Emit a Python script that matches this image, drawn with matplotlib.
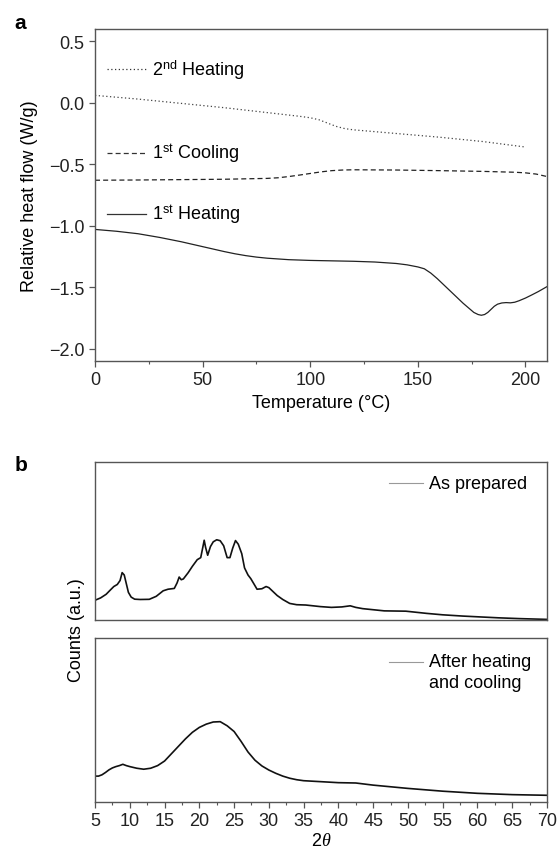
import numpy as np
import matplotlib
matplotlib.use('Agg')
import matplotlib.pyplot as plt
from matplotlib.ticker import MultipleLocator, FuncFormatter

plt.rcParams['font.family'] = ['Liberation Sans', 'DejaVu Sans']
plt.rcParams['font.size'] = 13
plt.rcParams['mathtext.fontset'] = 'custom'
plt.rcParams['mathtext.rm'] = 'Liberation Sans'
plt.rcParams['mathtext.it'] = 'Liberation Serif:italic'

##### DSC (panel a)
heat1_T = [0, 10, 20, 30, 40, 50, 55, 60, 65, 70, 75, 80, 90, 100, 120, 130, 140, 145,
           150, 153, 156, 159, 162, 165, 168, 171, 174, 176, 178, 179.5, 181, 182.5, 184,
           185.5, 187, 189, 191, 193, 195, 197, 200, 203, 206, 209, 210]
heat1_Q = [-1.03, -1.045, -1.065, -1.095, -1.13, -1.17, -1.19, -1.21, -1.228, -1.243, -1.255,
           -1.264, -1.276, -1.282, -1.289, -1.295, -1.307, -1.318,
           -1.335, -1.35, -1.385, -1.43, -1.48, -1.53, -1.58, -1.63, -1.675, -1.705, -1.722,
           -1.728, -1.722, -1.705, -1.68, -1.655, -1.638, -1.628, -1.625, -1.627, -1.622,
           -1.61, -1.588, -1.562, -1.535, -1.505, -1.495]

cool1_T = [0, 20, 40, 60, 80, 85, 90, 95, 100, 105, 110, 115, 120, 140, 160, 180, 195, 200,
           205, 210]
cool1_Q = [-0.63, -0.628, -0.625, -0.622, -0.615, -0.61, -0.60, -0.588, -0.575, -0.562,
           -0.552, -0.547, -0.545, -0.547, -0.552, -0.558, -0.565, -0.57, -0.58, -0.60]

heat2_T = [0, 20, 40, 60, 80, 95, 100, 104, 108, 112, 116, 120, 140, 160, 180, 200]
heat2_Q = [0.06, 0.03, -0.005, -0.04, -0.08, -0.11, -0.122, -0.138, -0.165, -0.192, -0.21,
           -0.22, -0.25, -0.28, -0.315, -0.36]

##### XRD (panel b)
prep_2th = [5.1, 5.8, 6.6, 7.2, 7.7, 8.2, 8.6, 8.9, 9.2, 9.5, 9.8, 10.2, 10.7, 11.5, 12.8,
            13.8, 14.8, 15.5, 16.4, 16.8, 17.1, 17.4, 17.7, 18.4, 19.0, 19.7, 20.2, 20.5,
            20.7, 20.9, 21.2, 21.6, 22.0, 22.5, 23.0, 23.5, 24.0, 24.4, 24.8, 25.2, 25.6,
            26.1, 26.5, 27.0, 27.4, 27.9, 28.3, 29.0, 29.6, 30.0, 30.6, 31.2, 32.0, 33.0,
            34.0, 35.3, 37.4, 39.0, 40.5, 41.7, 42.5, 43.5, 46.6, 49.7, 52.7, 55.0, 57.9,
            63.0, 66.0, 70.0]
prep_cts = [127, 140, 163, 190, 212, 225, 250, 300, 285, 230, 175, 145, 132, 130, 131,
            150, 185, 195, 200, 235, 272, 255, 260, 300, 340, 382, 395, 460,
            505, 460, 410, 465, 495, 508, 502, 470, 395, 395, 455, 503, 480,
            420, 330, 285, 262, 225, 195, 198, 212, 205, 180, 155, 130, 105,
            97, 95, 85, 80, 83, 90, 80, 72, 58, 56, 42, 33, 25,
            14, 9, 4]

after_2th = [5.0, 5.5, 6.0, 6.5, 7.0, 7.5, 8.0, 8.5, 9.0, 9.5, 10.0, 11.0, 12.0, 13.0, 14.0,
             15.0, 16.0, 17.0, 18.0, 19.0, 20.0, 21.0, 22.0, 23.0, 24.0, 25.0, 26.0, 27.0,
             28.0, 29.0, 30.0, 31.0, 32.0, 33.0, 34.0, 35.0, 37.5, 40.0, 42.5, 45.0, 50.0,
             55.0, 60.0, 65.0, 70.0]
after_cts = [158, 158, 166, 180, 196, 208, 216, 222, 230, 222, 216, 206, 200, 206, 222,
             250, 295, 340, 385, 425, 455, 475, 488, 490, 465, 430, 370, 305,
             255, 220, 195, 175, 158, 145, 136, 130, 124, 118, 116, 103, 83,
             66, 53, 45, 41]

fig = plt.figure(figsize=(5.58, 8.54), dpi=100)
spine_c = '#555555'

def style(ax):
    for s in ax.spines.values():
        s.set_color(spine_c); s.set_linewidth(1.0)
    ax.tick_params(color=spine_c, length=4, width=0.9, labelcolor='#222222')
    ax.tick_params(which='minor', color=spine_c, length=2.5, width=0.8)

##### a
ax = fig.add_axes([0.1703, 0.5761, 0.8100, 0.3888]); style(ax)
ax.plot(heat2_T, heat2_Q, color='#444444', lw=0.9, ls=(0, (1, 2)))
ax.plot(cool1_T, cool1_Q, color='#222222', lw=0.9, ls=(0, (4, 2.5)))
ax.plot(heat1_T, heat1_Q, color='#222222', lw=0.9)
ax.set_xlim(0, 210); ax.set_ylim(-2.1, 0.6)
ax.xaxis.set_major_locator(MultipleLocator(50)); ax.xaxis.set_minor_locator(MultipleLocator(25))
ax.yaxis.set_major_locator(MultipleLocator(0.5))
ax.yaxis.set_major_formatter(FuncFormatter(lambda v, p: f'{v:.1f}'.replace('-', '\u2212')))
ax.set_xlabel('Temperature (°C)', labelpad=4)
ax.set_ylabel('Relative heat flow (W/g)', labelpad=8)

keys = [('2$^{\\mathrm{nd}}$ Heating', (0, (1, 2)), 0.878),
        ('1$^{\\mathrm{st}}$ Cooling', (0, (4, 2.5)), 0.627),
        ('1$^{\\mathrm{st}}$ Heating', '-', 0.443)]
for lab, ls, ya in keys:
    ax.plot([0.026, 0.112], [ya, ya], transform=ax.transAxes, color='#333333', lw=0.9, ls=ls)
    ax.text(0.125, ya, lab, transform=ax.transAxes, va='center', ha='left')

fig.text(0.036, 0.973, 'a', fontsize=15, fontweight='bold', ha='center', va='center')

##### b
b1 = fig.add_axes([0.1703, 0.2728, 0.8100, 0.1850]); style(b1)
b2 = fig.add_axes([0.1703, 0.0597, 0.8100, 0.1920]); style(b2)
b1.plot(prep_2th, prep_cts, color='#111111', lw=1.2)
b2.plot(after_2th, after_cts, color='#111111', lw=1.2)
for b in (b1, b2):
    b.set_xlim(5, 70); b.set_ylim(0, 1000)
    b.set_yticks([])
b1.set_xticks([])
b2.xaxis.set_major_locator(MultipleLocator(5)); b2.xaxis.set_minor_locator(MultipleLocator(2.5))
b2.set_xlabel('2$\\theta$', labelpad=2)

b1.plot([0.650, 0.725], [0.865, 0.865], transform=b1.transAxes, color='#999999', lw=0.8)
b1.text(0.74, 0.865, 'As prepared', transform=b1.transAxes, va='center', ha='left')
b2.plot([0.650, 0.725], [0.855, 0.855], transform=b2.transAxes, color='#999999', lw=0.8)
b2.text(0.74, 0.91, 'After heating\nand cooling', transform=b2.transAxes, va='top', ha='left',
        linespacing=1.3)

fig.text(0.137, 0.262, 'Counts (a.u.)', rotation=90, ha='center', va='center')
fig.text(0.038, 0.455, 'b', fontsize=15, fontweight='bold', ha='center', va='center')

fig.savefig('out.png', dpi=100)
